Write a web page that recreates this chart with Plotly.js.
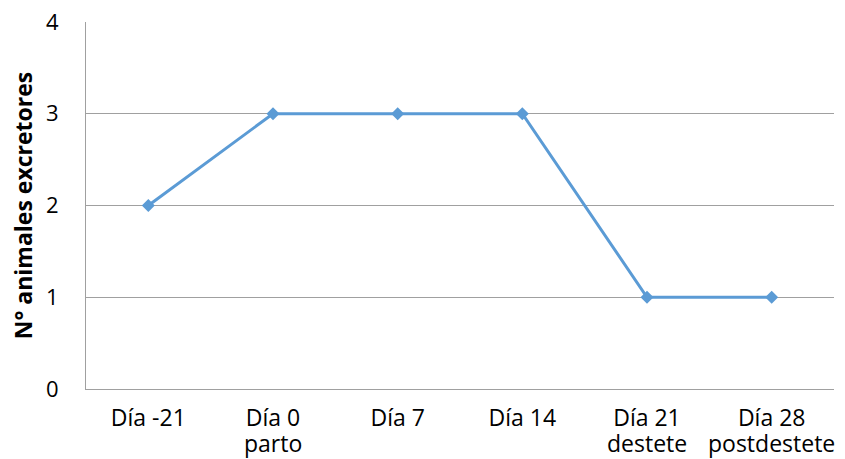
<!DOCTYPE html>
<html><head><meta charset="utf-8">
<script src="https://cdn.plot.ly/plotly-3.0.1.min.js"></script>
<style>body{margin:0;background:#fff}#chart{width:845px;height:459px}</style>
</head><body><div id="chart"></div>
<script>
const categories = ["Día -21", "Día 0", "Día 7", "Día 14", "Día 21", "Día 28"];
const subLabels = ["", "parto", "", "", "destete", "postdestete"];
const values = [2, 3, 3, 3, 1, 1];
const yTicks = [0, 1, 2, 3, 4];

const trace = {
  x: categories, y: values, type: "scatter", mode: "lines+markers",
  line: {color: "#5B9BD5", width: 3},
  marker: {symbol: "diamond", size: 10, color: "#5B9BD5"},
  hoverinfo: "none"
};
const annotations = categories.map((c, i) => ({
  x: c, xref: "x", y: 0, yref: "paper", yanchor: "top", xanchor: "center",
  yshift: -36, showarrow: false, text: subLabels[i],
  font: {size: 23, color: "#000"}
})).filter(a => a.text);

const layout = {
  width: 845, height: 459,
  margin: {l: 86, r: 11, t: 22, b: 70},
  paper_bgcolor: "#fff", plot_bgcolor: "#fff",
  font: {family: "'Open Sans', sans-serif", size: 23, color: "#000"},
  showlegend: false,
  xaxis: {
    type: "category", range: [-0.5, categories.length - 0.5],
    showgrid: false, zeroline: false,
    showline: true, linecolor: "#A0A0A0", linewidth: 1,
    ticks: "", ticklabelstandoff: 8,
    tickfont: {size: 23}
  },
  yaxis: {
    range: [0, 4], tickvals: yTicks, ticktext: yTicks.map(String),
    showgrid: true, gridcolor: "#A0A0A0", gridwidth: 1,
    zeroline: false, showline: true, linecolor: "#A0A0A0", linewidth: 1,
    ticks: "", ticklabelstandoff: 22, tickfont: {size: 22},
    title: {text: "N° animales excretores", font: {size: 23, weight: "bold"}, standoff: 6}
  },
  annotations: annotations
};
Plotly.newPlot("chart", [trace], layout, {staticPlot: true});
</script></body></html>
